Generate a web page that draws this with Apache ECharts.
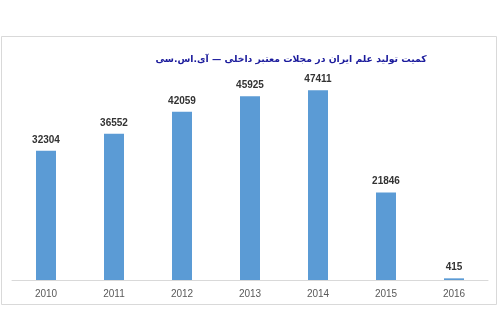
<!DOCTYPE html>
<html><head><meta charset="utf-8">
<script src="https://cdn.jsdelivr.net/npm/echarts@6/dist/echarts.min.js"></script>
<style>html,body{margin:0;padding:0;background:#fff}#c{width:503px;height:309px}</style>
</head><body><div id="c"></div>
<script>
const titleText = 'کمیت تولید علم ایران در مجلات معتبر داخلی — آی.اس.سی';
const categories = ['2010','2011','2012','2013','2014','2015','2016'];
const values = [32304, 36552, 42059, 45925, 47411, 21846, 415];

const chart = echarts.init(document.getElementById('c'), null, {renderer:'canvas'});
chart.setOption({
  animation:false,
  backgroundColor:'#fff',
  graphic:[{type:'rect', shape:{x:1.5,y:36.5,width:495,height:268}, style:{fill:'none',stroke:'#d9d9d9',lineWidth:1}, silent:true, z:-1}],
  title:{text:titleText, left:286, top:50, textAlign:'center',
    textStyle:{color:'#1a1a9c', fontSize:9.3, fontWeight:'bold', fontFamily:'DejaVu Sans'}},
  grid:{left:12, right:15, top:80, bottom:29, containLabel:false},
  xAxis:{type:'category', data:categories,
    axisLine:{lineStyle:{color:'#d9d9d9'}}, axisTick:{show:false},
    axisLabel:{color:'#595959', fontSize:10, fontFamily:'Liberation Sans', margin:9}},
  yAxis:{type:'value', min:0, max:50000, show:false, splitLine:{show:false}},
  series:[{type:'bar', data:values, barWidth:20, itemStyle:{color:'#5b9bd5'},
    label:{show:true, position:'top', color:'#333333', fontSize:10, fontWeight:'bold', fontFamily:'Liberation Sans', distance:6}}]
});
</script></body></html>
